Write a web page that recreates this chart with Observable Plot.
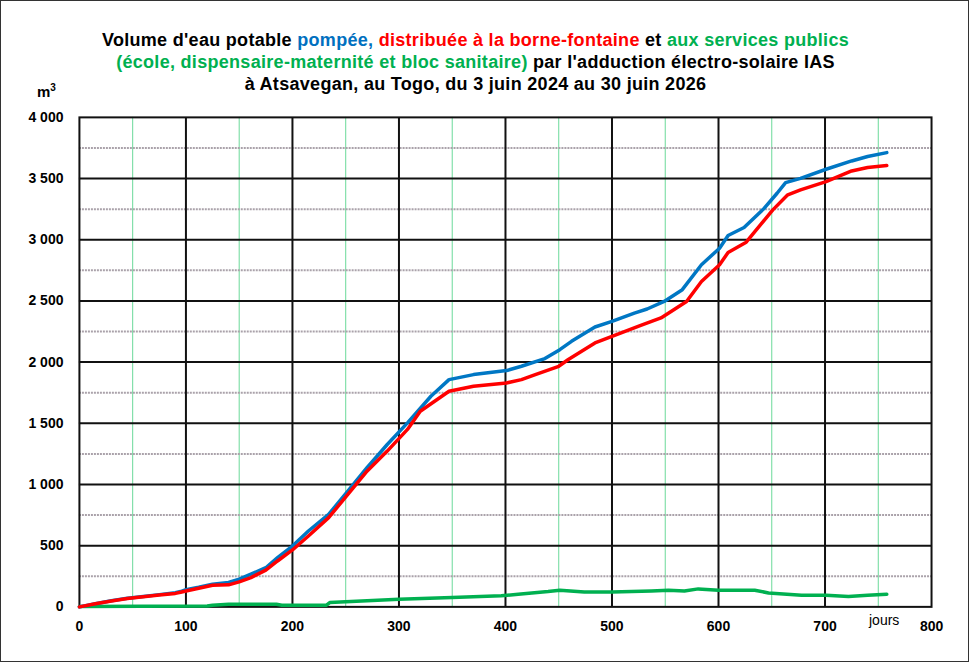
<!DOCTYPE html>
<html>
<head>
<meta charset="utf-8">
<script src="https://cdn.jsdelivr.net/npm/d3@7"></script>
<script src="https://cdn.jsdelivr.net/npm/@observablehq/plot@0.6"></script>
<style>
  html, body { margin: 0; padding: 0; background: #fff; }
  #wrap { position: relative; width: 969px; height: 662px; box-sizing: border-box; border: 1px solid #333; overflow: hidden; font-family: "Liberation Sans", Arial, sans-serif; }
  #chart { position: absolute; left: -1px; top: -1px; }
  .title { position: absolute; left: 0; width: 949px; text-align: center; font-weight: bold; font-size: 18px; letter-spacing: 0.3px; color: #000; white-space: nowrap; }
  .b { color: #0070C0; } .r { color: #FF0000; } .g { color: #00B050; }
  #m3 { position: absolute; left: 36px; top: 81px; font-weight: bold; font-size: 15px; }
  #jours { position: absolute; left: 868px; top: 611px; font-size: 14px; }
</style>
</head>
<body>
<div id="wrap">
  <div id="chart"></div>
  <div class="title" style="top:29px">Volume d'eau potable <span class="b">pompée,</span> <span class="r">distribuée à la borne-fontaine</span> et <span class="g">aux services publics</span></div>
  <div class="title" style="top:51px"><span class="g">(école, dispensaire-maternité et bloc sanitaire)</span> par l'adduction électro-solaire IAS</div>
  <div class="title" style="top:72.5px">à Atsavegan, au Togo, du 3 juin 2024 au 30 juin 2026</div>
  <div id="m3">m<sup style="font-size:10px">3</sup></div>
  <div id="jours">jours</div>
</div>
<script>
// Cumulative volume pumped (pompée), m³
const blueDays = [0, 15, 30, 45, 60, 75, 90, 95, 100, 112, 125, 140, 150, 161, 175, 186, 200, 215, 234, 252, 270, 289, 308, 330, 347, 370, 401, 415, 437, 451, 462, 484, 500, 521, 533, 549, 566, 584, 601, 609, 624, 643, 655, 663, 677, 701, 725, 740, 758];
const blueVals = [0, 25, 50, 70, 85, 100, 115, 125, 140, 160, 185, 200, 226, 267, 320, 402, 497, 620, 756, 946, 1137, 1327, 1504, 1721, 1857, 1898, 1931, 1966, 2029, 2102, 2170, 2287, 2333, 2401, 2434, 2496, 2592, 2796, 2931, 3035, 3100, 3258, 3380, 3467, 3502, 3576, 3644, 3680, 3712];
// Cumulative volume distributed at the standpipe (borne-fontaine), m³
const redDays = [0, 15, 30, 45, 60, 75, 90, 95, 100, 112, 125, 140, 150, 161, 175, 186, 200, 215, 234, 252, 270, 289, 308, 320, 347, 370, 401, 415, 428, 450, 459, 484, 500, 527, 546, 570, 584, 601, 609, 626, 651, 665, 677, 701, 725, 740, 758];
const redVals = [0, 25, 48, 68, 83, 97, 110, 120, 130, 152, 177, 180, 204, 239, 300, 375, 465, 579, 729, 919, 1109, 1273, 1450, 1599, 1762, 1803, 1830, 1857, 1898, 1966, 2021, 2157, 2211, 2301, 2361, 2496, 2659, 2796, 2896, 2980, 3244, 3367, 3407, 3475, 3562, 3590, 3606];
// Cumulative volume for public services, m³
const greenDays = [0, 60, 120, 125, 140, 185, 190, 232, 235, 260, 300, 350, 396, 412, 440, 451, 474, 500, 537, 553, 568, 581, 600, 634, 647, 678, 701, 722, 740, 758];
const greenVals = [3, 5, 7, 14, 22, 22, 14, 14, 35, 45, 63, 76, 90, 103, 125, 136, 122, 122, 130, 136, 130, 147, 136, 136, 114, 95, 95, 84, 95, 103];
// Axis ticks
const xTicks = [0, 100, 200, 300, 400, 500, 600, 700, 800];
const yTicks = [0, 500, 1000, 1500, 2000, 2500, 3000, 3500, 4000];

const toRows = (days, vals) => days.map((d, i) => ({day: d, v: vals[i]}));
const blue = toRows(blueDays, blueVals);
const red = toRows(redDays, redVals);
const green = toRows(greenDays, greenVals);

const fmt = d => d >= 1000 ? `${Math.floor(d / 1000)} ${String(d % 1000).padStart(3, "0")}` : String(d);

const chart = Plot.plot({
  width: 969,
  height: 662,
  marginLeft: 79,
  marginRight: 37,
  marginTop: 117,
  marginBottom: 55,
  style: {fontFamily: "'Liberation Sans', Arial, sans-serif", background: "transparent"},
  x: {domain: [0, 800], ticks: xTicks, tickFormat: d => String(d), tickSize: 0, tickPadding: 14, label: null},
  y: {domain: [0, 4000], ticks: yTicks, tickFormat: fmt, tickSize: 0, tickPadding: 16, label: null},
  marks: [
    Plot.ruleX(d3.range(50, 800, 100), {stroke: "#6ad99a", strokeWidth: 1}),
    Plot.ruleY(d3.range(250, 4000, 500), {stroke: "#aaa2aa", strokeWidth: 2, strokeDasharray: "2,1"}),
    Plot.ruleX(d3.range(100, 800, 100), {stroke: "#111", strokeWidth: 2}),
    Plot.ruleY(d3.range(500, 4000, 500), {stroke: "#111", strokeWidth: 2}),
    Plot.frame({stroke: "#111", strokeWidth: 2}),
    Plot.line(green, {x: "day", y: "v", stroke: "#00B050", strokeWidth: 3.5}),
    Plot.line(blue, {x: "day", y: "v", stroke: "#0077C4", strokeWidth: 3.5}),
    Plot.line(red, {x: "day", y: "v", stroke: "#FF0000", strokeWidth: 3.5}),
    Plot.axisX({ticks: xTicks, tickFormat: d => String(d), tickSize: 0, tickPadding: 14, fontSize: 14, fontWeight: "bold", fill: "#000"}),
    Plot.axisY({ticks: yTicks, tickFormat: fmt, tickSize: 0, tickPadding: 16, fontSize: 14, fontWeight: "bold", fill: "#000"})
  ]
});
chart.querySelectorAll("text").forEach(t => { t.style.fontSize = "14px"; t.style.fontWeight = "bold"; });
document.getElementById("chart").appendChild(chart);
</script>
</body>
</html>
